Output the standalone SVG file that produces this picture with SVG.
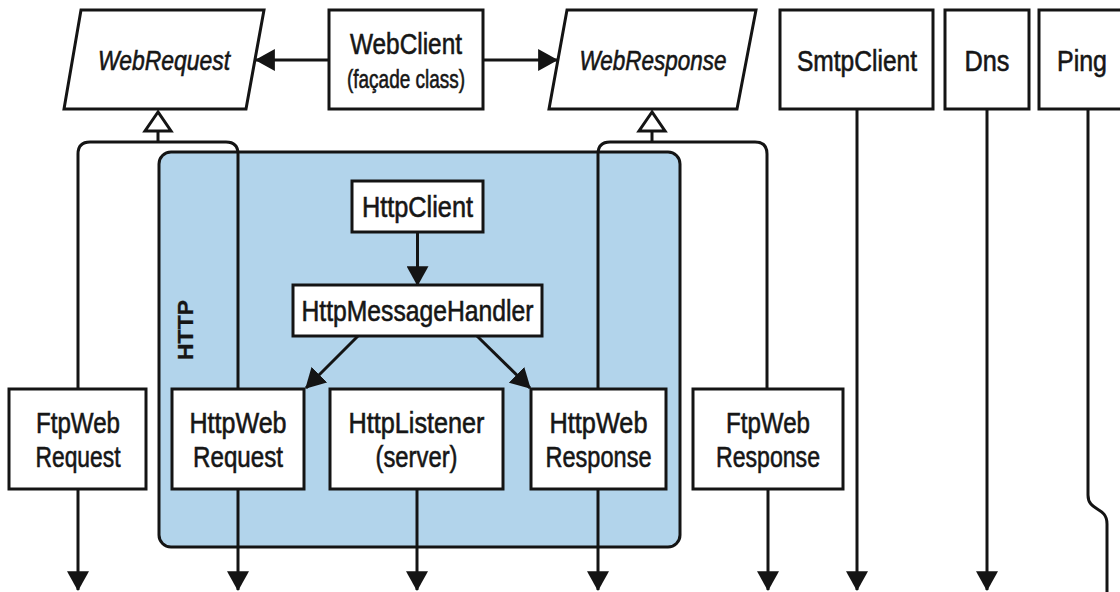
<svg xmlns="http://www.w3.org/2000/svg" width="1120" height="592" viewBox="0 0 1120 592">
<style>
  .box { fill: #ffffff; stroke: #141414; stroke-width: 3; }
  .cont { fill: #b2d4eb; stroke: #141414; stroke-width: 3; }
  .ln { fill: none; stroke: #141414; stroke-width: 3; }
  .arr { fill: none; stroke: #141414; stroke-width: 3; marker-end: url(#ah); }
  .tri { fill: #ffffff; stroke: #141414; stroke-width: 3; stroke-linejoin: miter; }
  text { font-family: "Liberation Sans", Arial, sans-serif; fill: #161616; stroke: #161616; stroke-width: 0.6; text-anchor: middle; }
  .t { font-size: 29.5px; }
  .s { font-size: 26px; }
  .i { font-size: 28px; font-style: italic; }
  .b { font-size: 22px; font-weight: bold; stroke-width: 0.3; }
</style>
<defs>
  <marker id="ah" markerUnits="userSpaceOnUse" markerWidth="20" markerHeight="22" viewBox="0 0 19 21" refX="18" refY="10.5" orient="auto">
    <path d="M0,0 L19,10.5 L0,21 z" fill="#141414"/>
  </marker>
</defs>

<g id="http-container">
  <rect class="cont" x="159" y="152" width="521" height="395" rx="12"/>
  <text class="b" transform="translate(193,330) rotate(-90)" textLength="60" lengthAdjust="spacingAndGlyphs">HTTP</text>
</g>

<g id="connectors">
  <path class="arr" d="M329,60 H256"/>
  <path class="arr" d="M483,60 H557"/>
  <path class="ln" d="M78,389 V154 Q78,142 90,142 H226 Q238,142 238,154 V389"/>
  <path class="ln" d="M158,131 V142"/>
  <polygon class="tri" points="158,112 145,131 171,131"/>
  <path class="ln" d="M598,389 V154 Q598,142 610,142 H755 Q767,142 767,154 V389"/>
  <path class="ln" d="M652,131 V142"/>
  <polygon class="tri" points="652,112 639,131 665,131"/>
  <path class="arr" d="M417.5,232 V285"/>
  <path class="arr" d="M358,336 L306,388"/>
  <path class="arr" d="M477,336 L530,388"/>
  <path class="arr" d="M78,489 V590"/>
  <path class="arr" d="M238,489 V590"/>
  <path class="arr" d="M417,489 V590"/>
  <path class="arr" d="M598,489 V590"/>
  <path class="arr" d="M768,489 V590"/>
  <path class="arr" d="M857,109 V590"/>
  <path class="arr" d="M987,109 V590"/>
  <path class="ln" d="M1088,109 V495 C1088,512 1107,506 1107,524 V600"/>
</g>

<g id="WebRequest">
  <polygon class="box" points="81,10 264,10 246,109 64,109"/>
  <text class="i" x="164" y="70" textLength="132" lengthAdjust="spacingAndGlyphs">WebRequest</text>
</g>
<g id="WebClient">
  <rect class="box" x="329" y="10" width="154" height="99"/>
  <text class="t" x="406" y="54" textLength="112" lengthAdjust="spacingAndGlyphs">WebClient</text>
  <text class="s" x="406" y="88" textLength="118" lengthAdjust="spacingAndGlyphs">(façade class)</text>
</g>
<g id="WebResponse">
  <polygon class="box" points="567,10 756,10 737,109 549,109"/>
  <text class="i" x="653" y="70" textLength="147" lengthAdjust="spacingAndGlyphs">WebResponse</text>
</g>
<g id="SmtpClient">
  <rect class="box" x="780" y="10" width="153" height="99"/>
  <text class="t" x="857" y="71" textLength="120" lengthAdjust="spacingAndGlyphs">SmtpClient</text>
</g>
<g id="Dns">
  <rect class="box" x="945" y="10" width="84" height="99"/>
  <text class="t" x="987" y="71" textLength="45" lengthAdjust="spacingAndGlyphs">Dns</text>
</g>
<g id="Ping">
  <rect class="box" x="1039" y="10" width="100" height="99"/>
  <text class="t" x="1082" y="71" textLength="50" lengthAdjust="spacingAndGlyphs">Ping</text>
</g>

<g id="HttpClient">
  <rect class="box" x="352" y="181" width="131" height="51"/>
  <text class="t" x="417.5" y="217" textLength="111" lengthAdjust="spacingAndGlyphs">HttpClient</text>
</g>
<g id="HttpMessageHandler">
  <rect class="box" x="293" y="285" width="249" height="51"/>
  <text class="t" x="417.5" y="321" textLength="232" lengthAdjust="spacingAndGlyphs">HttpMessageHandler</text>
</g>

<g id="FtpWebRequest">
  <rect class="box" x="9" y="389" width="137" height="100"/>
  <text class="t" x="78" y="433" textLength="84" lengthAdjust="spacingAndGlyphs">FtpWeb</text>
  <text class="t" x="78" y="466.5" textLength="85" lengthAdjust="spacingAndGlyphs">Request</text>
</g>
<g id="HttpWebRequest">
  <rect class="box" x="172" y="389" width="132" height="100"/>
  <text class="t" x="238" y="433" textLength="97" lengthAdjust="spacingAndGlyphs">HttpWeb</text>
  <text class="t" x="238" y="466.5" textLength="90" lengthAdjust="spacingAndGlyphs">Request</text>
</g>
<g id="HttpListener">
  <rect class="box" x="330" y="389" width="173" height="100"/>
  <text class="t" x="416.5" y="433" textLength="136" lengthAdjust="spacingAndGlyphs">HttpListener</text>
  <text class="t" x="416.5" y="466.5" textLength="82" lengthAdjust="spacingAndGlyphs">(server)</text>
</g>
<g id="HttpWebResponse">
  <rect class="box" x="531" y="389" width="135" height="100"/>
  <text class="t" x="598.5" y="433" textLength="98" lengthAdjust="spacingAndGlyphs">HttpWeb</text>
  <text class="t" x="598.5" y="466.5" textLength="106" lengthAdjust="spacingAndGlyphs">Response</text>
</g>
<g id="FtpWebResponse">
  <rect class="box" x="693" y="389" width="150" height="100"/>
  <text class="t" x="768" y="433" textLength="84" lengthAdjust="spacingAndGlyphs">FtpWeb</text>
  <text class="t" x="768" y="466.5" textLength="104" lengthAdjust="spacingAndGlyphs">Response</text>
</g>
</svg>
